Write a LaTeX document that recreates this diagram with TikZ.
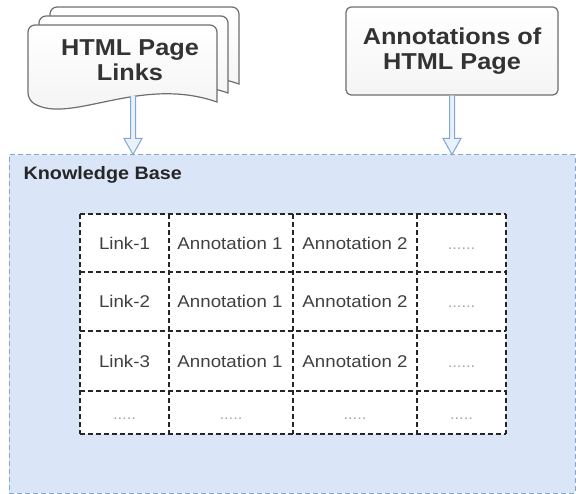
\documentclass[tikz,border=0pt]{standalone}
\usepackage{fontspec}
\setmainfont{Liberation Sans}[FakeStretch=1.1]
\usetikzlibrary{calc}

\definecolor{kbfill}{HTML}{DAE6F7}
\definecolor{kbline}{HTML}{7EA6D8}
\definecolor{arrowfill}{HTML}{EAF1FB}
\definecolor{sheetline}{HTML}{6E6E6E}
\definecolor{inktext}{HTML}{333333}

\tikzset{
	sheet/.style={draw=sheetline, line width=1.2pt, top color=white, bottom color=black!5},
	hollow/.style={draw=kbline, fill=arrowfill, line width=1pt, line join=miter,
		to path={let \p1=(\tikztostart), \p2=(\tikztotarget) in
			(\x1-2.5pt,\y1) -- (\x1-2.5pt,\y2+16pt) -- (\x1-9pt,\y2+16pt) -- (\x1,\y2)
			-- (\x1+9pt,\y2+16pt) -- (\x1+2.5pt,\y2+16pt) -- (\x1+2.5pt,\y1)}},
	heading/.style={font=\bfseries\fontsize{23}{25}\selectfont, text=inktext, align=center},
	cell/.style={font=\fontsize{17}{20}\selectfont, text=black!75, text height=12pt, text depth=4pt},
	dots/.style={font=\fontsize{15}{20}\selectfont, text=black!35, text height=12pt, text depth=4pt},
	grid/.style={draw=black!85, line width=1.4pt, dash pattern=on 5pt off 3pt},
}

\begin{document}
\begin{tikzpicture}[x=1pt,y=-1pt]
			%%%%% START %%%%%
			\useasboundingbox (0,0) rectangle (576,494);
			
			% knowledge base panel
			\node[draw=kbline, fill=kbfill, line width=1pt, dash pattern=on 5pt off 3pt,
				minimum width=566pt, minimum height=338pt, inner sep=0pt] (kb) at (292,324) {};
			\node[anchor=west, font=\bfseries\fontsize{18}{20}\selectfont, text=black!85] (kbtitle) at (20,175) {Knowledge Base};
			
			% stack of pages
			\foreach \dx/\dy in {22/-18, 11/-9, 0/0} {
				\begin{scope}[shift={(\dx,\dy)}]
					\draw[sheet, rounded corners=7pt] (217,102) -- (217,25) -- (28,25) -- (28,100)
						[sharp corners] .. controls (70,125) and (140,75) .. (217,102) -- cycle;
				\end{scope}
			}
			\node[heading] (links) at (130,60) {HTML Page\\Links};
			\coordinate (links-foot) at (133,96);
			
			% annotations box
			\node[heading, draw=sheetline, line width=1.2pt, rounded corners=5pt, top color=white, bottom color=black!4,
				minimum width=212pt, minimum height=88pt] (annot) at (452,51) {Annotations of\\HTML Page};
			
			\draw[hollow] (links-foot) to (kb.north -| links-foot);
			\draw[hollow] (annot.south) to (kb.north -| annot.south);
			
			% table
			\fill[white] (80,214) rectangle (506,434);
			\foreach \y in {214,272,331,391,434}
				\draw[grid] (80,\y) -- (506,\y);
			\foreach \x in {80,169,293,417,506}
				\draw[grid] (\x,214) -- (\x,434);
			
			\foreach \row/\y in {1/246, 2/304, 3/364} {
				\node[cell] (link-\row) at (124.5,\y) {Link-\row};
				\node[cell] (first-\row) at (230,\y) {Annotation 1};
				\node[cell] (second-\row) at (355,\y) {Annotation 2};
				\node[dots] (more-\row) at (461.5,\y) {......};
			}
			\foreach \col/\x in {1/124.5, 2/231, 3/355, 4/461.5}
				\node[dots] (last-\col) at (\x,416) {.....};
			
			%%%%% END %%%%%
\end{tikzpicture}
\end{document}
